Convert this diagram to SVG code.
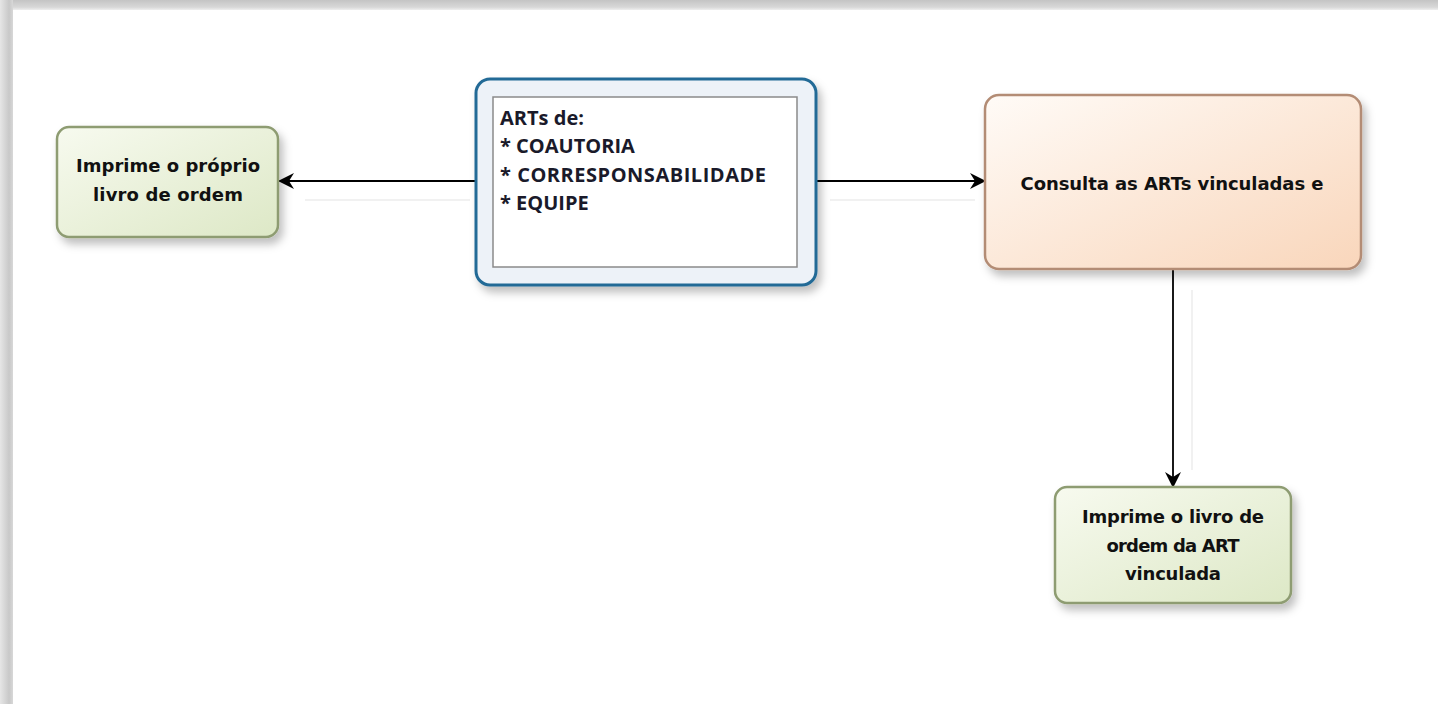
<svg xmlns="http://www.w3.org/2000/svg" width="1438" height="704" viewBox="0 0 1438 704">
<defs>
<linearGradient id="topShade" x1="0" y1="0" x2="0" y2="1"><stop offset="0" stop-color="#c4c4c4"/><stop offset="0.6" stop-color="#d8d8d8"/><stop offset="1" stop-color="#ffffff"/></linearGradient>
<linearGradient id="leftShade" x1="0" y1="0" x2="1" y2="0"><stop offset="0" stop-color="#e6e6e6"/><stop offset="0.7" stop-color="#c8c8c8"/><stop offset="1" stop-color="#d8d8d8"/></linearGradient>
<linearGradient id="green" x1="0" y1="0" x2="1" y2="1"><stop offset="0" stop-color="#f7faef"/><stop offset="1" stop-color="#dde8c6"/></linearGradient>
<linearGradient id="orange" x1="0" y1="0" x2="1" y2="1"><stop offset="0" stop-color="#fffbf7"/><stop offset="1" stop-color="#f9d6bb"/></linearGradient>
<filter id="shadow" x="-10%" y="-10%" width="130%" height="140%"><feDropShadow dx="4" dy="6" stdDeviation="4" flood-color="#000" flood-opacity="0.25"/></filter>
<marker id="arrow" viewBox="0 0 16 16" refX="15" refY="8" markerWidth="16" markerHeight="16" markerUnits="userSpaceOnUse" orient="auto"><path d="M0,0 L16,8 L0,16 L5,8 Z" fill="#000"/></marker>
<style>
.edge{stroke:#000;stroke-width:1.8;fill:none}
.ghost{stroke:#ececec;stroke-width:1.5;fill:none}
.gnode{fill:url(#green);stroke:#8e9c72;stroke-width:2.5}
.t{font-family:"DejaVu Sans","Liberation Sans",sans-serif;font-weight:bold;font-size:18px;fill:#111;text-anchor:middle}
.c{font-family:"Open Sans","Liberation Sans",sans-serif;font-weight:bold;font-size:20px;fill:#1a1a2a}
</style>
</defs>
<rect width="1438" height="704" fill="#fff"/>
<rect x="0" y="0" width="1438" height="12" fill="url(#topShade)"/>
<rect x="0" y="0" width="13" height="704" fill="url(#leftShade)"/>
<rect x="13" y="10" width="1425" height="694" fill="#fff"/>
<g id="connectors">
<line class="ghost" x1="470" y1="200" x2="305" y2="200"/>
<line class="ghost" x1="830" y1="200" x2="975" y2="200"/>
<line class="ghost" x1="1192" y1="290" x2="1192" y2="470"/>
<line class="edge" x1="476" y1="181" x2="279" y2="181" marker-end="url(#arrow)"/>
<line class="edge" x1="816" y1="181" x2="985" y2="181" marker-end="url(#arrow)"/>
<line class="edge" x1="1173" y1="269" x2="1173" y2="487" marker-end="url(#arrow)"/>
</g>
<g id="node-proprio">
<rect class="gnode" x="57" y="127" width="221" height="110" rx="12" filter="url(#shadow)"/>
<text class="t" x="168" y="172" textLength="184">Imprime o próprio</text>
<text class="t" x="168" y="201" textLength="150">livro de ordem</text>
</g>
<g id="node-arts">
<rect x="476" y="79" width="340" height="206" rx="14" fill="#edf2f8" stroke="#236a96" stroke-width="3" filter="url(#shadow)"/>
<rect x="493" y="97" width="304" height="170" fill="#fff" stroke="#8a8a8a" stroke-width="1.5"/>
<text class="c" x="500" y="125">ARTs de:</text>
<text class="c" x="500" y="153">* COAUTORIA</text>
<text class="c" x="500" y="182" textLength="266">* CORRESPONSABILIDADE</text>
<text class="c" x="500" y="210">* EQUIPE</text>
</g>
<g id="node-consulta">
<rect x="985" y="95" width="376" height="174" rx="14" fill="url(#orange)" stroke="#b38c74" stroke-width="2.5" filter="url(#shadow)"/>
<text class="t" x="1172" y="190" textLength="303">Consulta as ARTs vinculadas e</text>
</g>
<g id="node-vinculada">
<rect class="gnode" x="1055" y="487" width="236" height="116" rx="12" filter="url(#shadow)"/>
<text class="t" x="1173" y="523" textLength="182">Imprime o livro de</text>
<text class="t" x="1173" y="552" textLength="133">ordem da ART</text>
<text class="t" x="1173" y="580" textLength="96">vinculada</text>
</g>
</svg>
